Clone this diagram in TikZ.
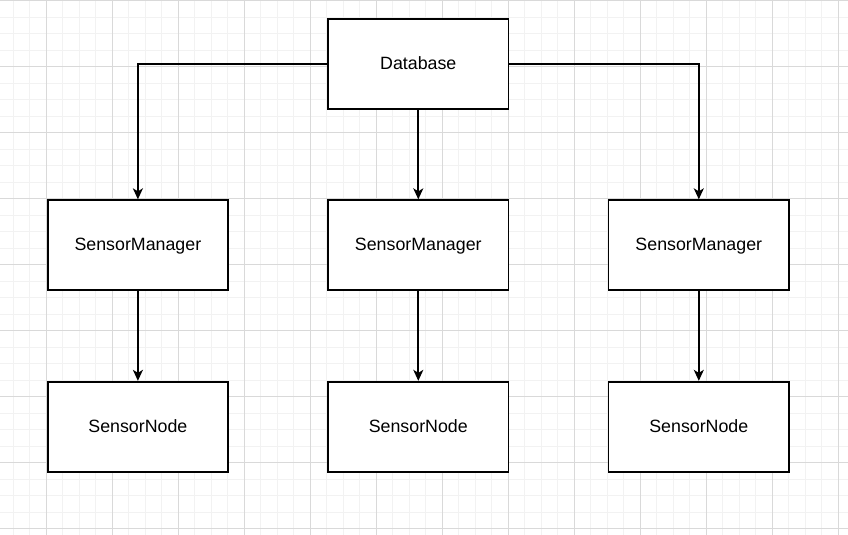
\documentclass[tikz,border=0pt]{standalone}
\usepackage{fontspec}
\setmainfont{Liberation Sans}
\usetikzlibrary{arrows.meta}
\begin{document}
\begin{tikzpicture}[x=1pt,y=-1pt,
  box/.style={draw=black,line width=1.7pt,fill=white,minimum width=180.5pt,minimum height=90pt,inner sep=0pt,text height=12.8pt,text depth=1.8pt,font=\fontsize{17.8pt}{20pt}\selectfont},
  conn/.style={draw=black,line width=1.7pt,-{Stealth[length=11pt,width=10pt,inset=3pt]}}]
\useasboundingbox (0,0) rectangle (848,535);
\fill[white] (0,0) rectangle (848,535);
% minor grid
\foreach \i in {-2,...,52} {
  \draw[line width=1pt,color=black!5] ({46.3+16.5*\i},0) -- ({46.3+16.5*\i},535);
}
\foreach \j in {0,...,33} {
  \draw[line width=1pt,color=black!5] (0,{0.7+16.5*\j}) -- (848,{0.7+16.5*\j});
}
% major grid
\foreach \i in {0,...,12} {
  \draw[line width=1pt,color=black!15] ({46.3+66*\i},0) -- ({46.3+66*\i},535);
}
\foreach \j in {0,...,8} {
  \draw[line width=1pt,color=black!15] (0,{0.7+66*\j}) -- (848,{0.7+66*\j});
}
\node[box] (db) at (418.3,64.2) {Database};
\node[box] (sm1) at (137.9,245.2) {SensorManager};
\node[box] (sm2) at (418.3,245.2) {SensorManager};
\node[box] (sm3) at (698.8,245.2) {SensorManager};
\node[box] (sn1) at (137.9,426.7) {SensorNode};
\node[box] (sn2) at (418.3,426.7) {SensorNode};
\node[box] (sn3) at (698.8,426.7) {SensorNode};
\draw[conn] (db.west) -| (sm1.north);
\draw[conn] (db.south) -- (sm2.north);
\draw[conn] (db.east) -| (sm3.north);
\draw[conn] (sm1.south) -- (sn1.north);
\draw[conn] (sm2.south) -- (sn2.north);
\draw[conn] (sm3.south) -- (sn3.north);
\end{tikzpicture}
\end{document}
